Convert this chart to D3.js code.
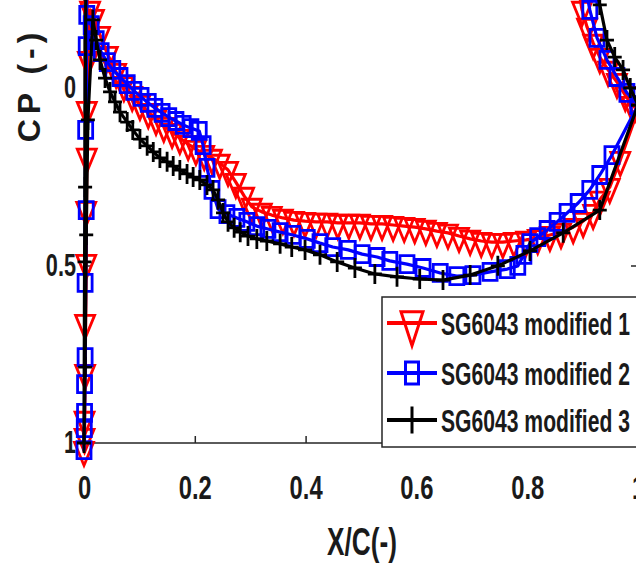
<!DOCTYPE html>
<html>
<head>
<meta charset="utf-8">
<script src="https://cdn.jsdelivr.net/npm/d3@7"></script>
<style>
  body { margin: 0; background: #fff; }
  svg { display: block; }
</style>
</head>
<body>
<div id="chart"></div>
<script>
'use strict';

// tick values and legend names
var xTicks = [0, 0.2, 0.4, 0.6, 0.8, 1];
var yTicks = [0, 0.5, 1];
var seriesNames = ['SG6043 modified 1', 'SG6043 modified 2', 'SG6043 modified 3'];

// [x/c, Cp]; loop goes TE -> lower side -> LE -> upper side -> TE
// (upper side suction peak is outside the visible range)
var mod1 = [
  [1.0, 0.062], [0.968, 0.203], [0.949, 0.279], [0.931, 0.315], [0.919, 0.352], [0.901, 0.375], [0.883, 0.392], [0.861, 0.406], [0.841, 0.414],
  [0.819, 0.423], [0.798, 0.428], [0.776, 0.431], [0.756, 0.434], [0.736, 0.434], [0.717, 0.431], [0.697, 0.425], [0.677, 0.417], [0.657, 0.408], [0.637, 0.403],
  [0.617, 0.397], [0.597, 0.392], [0.578, 0.389], [0.558, 0.386], [0.538, 0.383], [0.518, 0.383], [0.498, 0.380], [0.478, 0.380], [0.458, 0.380], [0.439, 0.377],
  [0.419, 0.377], [0.399, 0.375], [0.379, 0.372], [0.359, 0.366], [0.339, 0.358], [0.321, 0.349], [0.303, 0.335], [0.289, 0.304], [0.274, 0.265], [0.260, 0.231],
  [0.245, 0.211], [0.231, 0.197], [0.217, 0.186], [0.202, 0.172], [0.188, 0.158], [0.173, 0.141], [0.159, 0.124], [0.144, 0.107], [0.130, 0.087], [0.116, 0.068],
  [0.101, 0.045], [0.087, 0.020], [0.072, -0.008], [0.058, -0.045], [0.043, -0.093], [0.029, -0.149], [0.018, -0.197], [0.011, -0.220],
  [0.007, -0.079], [0.005, 0.194], [0.004, 0.493], [0.002, 0.803], [0.001, 0.983], [0, 1.02],
  [0.001, 0.935], [0.002, 0.662], [0.004, 0.344], [0.005, 0.062],
  [0.007, -0.67], [0.12, -1.375], [0.66, -1.375], [0.859, -0.586],
  [0.899, -0.220], [0.908, -0.172], [0.919, -0.127], [0.931, -0.087], [0.946, -0.051], [0.962, -0.017], [0.977, 0.020], [0.989, 0.048], [1.0, 0.062]
];

var mod2 = [
  [1.0, 0.048], [0.953, 0.189], [0.931, 0.245], [0.913, 0.287], [0.892, 0.324], [0.872, 0.352], [0.854, 0.377], [0.836, 0.400], [0.819, 0.420], [0.805, 0.437],
  [0.794, 0.470], [0.783, 0.501], [0.764, 0.510], [0.733, 0.518], [0.702, 0.527], [0.673, 0.530], [0.643, 0.521], [0.612, 0.507], [0.583, 0.496], [0.552, 0.487],
  [0.529, 0.476], [0.502, 0.468], [0.477, 0.456], [0.449, 0.448], [0.426, 0.437], [0.403, 0.425], [0.377, 0.414], [0.354, 0.406], [0.332, 0.397], [0.312, 0.389],
  [0.294, 0.377], [0.276, 0.366], [0.258, 0.355], [0.242, 0.341], [0.231, 0.287], [0.222, 0.225], [0.215, 0.161], [0.208, 0.121], [0.193, 0.113], [0.179, 0.104],
  [0.166, 0.093], [0.153, 0.082], [0.141, 0.070], [0.128, 0.056], [0.116, 0.042], [0.103, 0.025], [0.090, 0.008], [0.078, -0.011], [0.065, -0.031], [0.052, -0.051],
  [0.042, -0.073], [0.031, -0.101], [0.022, -0.135], [0.013, -0.177], [0.005, -0.206],
  [0.004, -0.118], [0.003, 0.118], [0.002, 0.549], [0.001, 0.834], [0.0005, 0.958], [0, 1.02],
  [0.001, 0.915], [0.002, 0.758], [0.004, 0.344],
  [0.005, -0.67], [0.12, -1.375], [0.66, -1.375], [0.870, -0.586],
  [0.913, -0.220], [0.926, -0.141], [0.944, -0.079], [0.962, -0.031], [0.980, 0.014], [1.0, 0.048]
];

var mod3 = [
  [1.0, 0.048], [0.931, 0.344], [0.865, 0.408], [0.805, 0.459], [0.747, 0.501], [0.697, 0.527], [0.648, 0.541], [0.606, 0.538], [0.565, 0.532], [0.525, 0.524],
  [0.489, 0.507], [0.457, 0.490], [0.426, 0.470], [0.399, 0.456], [0.375, 0.448], [0.354, 0.439], [0.330, 0.431], [0.312, 0.425], [0.296, 0.417], [0.282, 0.406],
  [0.271, 0.394], [0.260, 0.377], [0.251, 0.352], [0.242, 0.315], [0.233, 0.287], [0.222, 0.273], [0.209, 0.259], [0.197, 0.251], [0.186, 0.242], [0.173, 0.231],
  [0.161, 0.220], [0.150, 0.208], [0.137, 0.197], [0.125, 0.180], [0.114, 0.163], [0.101, 0.144], [0.088, 0.118], [0.078, 0.096], [0.065, 0.068], [0.056, 0.039],
  [0.047, 0.011], [0.038, -0.028], [0.029, -0.079], [0.022, -0.135], [0.016, -0.192],
  [0.007, 0.090], [0.004, 0.414], [0.002, 0.786], [0, 1.0],
  [0.001, 0.490], [0.002, 0.279],
  [0.004, -0.67], [0.12, -1.375], [0.66, -1.375], [0.886, -0.586],
  [0.931, -0.234], [0.944, -0.135], [0.958, -0.087], [0.973, -0.051], [0.986, 0.0], [1.0, 0.048]
];

var width = 636, height = 565;
var font = '"Liberation Sans", Arial, sans-serif';
var axisColor = '#262626';
var squash = 0.7;   // the picture is horizontally compressed

var x = d3.scaleLinear().domain([0, 1]).range([84, 638]);
var y = d3.scaleLinear().domain([0, 1]).range([88, 443]);   // reversed Cp axis

var svg = d3.select('#chart').append('svg')
    .attr('width', width)
    .attr('height', height);

// axes box
svg.append('rect')
    .attr('x', x(0)).attr('y', y(-0.25))
    .attr('width', x(1) - x(0)).attr('height', y(1) - y(-0.25))
    .attr('fill', 'none').attr('stroke', axisColor).attr('stroke-width', 1.5);

var xAxis = svg.append('g')
    .attr('transform', 'translate(0,' + y(1) + ')')
    .call(d3.axisBottom(x).tickValues(xTicks).tickSizeInner(-7).tickSizeOuter(0)
        .tickPadding(32).tickFormat(function(d) { return String(d); }));
var yAxis = svg.append('g')
    .attr('transform', 'translate(' + x(0) + ',0)')
    .call(d3.axisLeft(y).tickValues(yTicks).tickSizeInner(-7).tickSizeOuter(0)
        .tickPadding(8).tickFormat(function(d) { return String(d); }));
var yAxisRight = svg.append('g')
    .attr('transform', 'translate(' + x(1) + ',0)')
    .call(d3.axisRight(y).tickValues(yTicks).tickSizeInner(-7).tickSizeOuter(0)
        .tickFormat(function() { return ''; }));

[xAxis, yAxis, yAxisRight].forEach(function(g) {
    g.select('.domain').remove();
    g.selectAll('line').attr('stroke', axisColor).attr('stroke-width', 1.5);
});
xAxis.selectAll('text')
    .attr('font-family', font).attr('font-weight', 'bold').attr('font-size', 34)
    .attr('fill', '#1a1a1a')
    .attr('transform', 'scale(' + squash + ',1)');
yAxis.selectAll('text')
    .attr('font-family', font).attr('font-weight', 'bold').attr('font-size', 31)
    .attr('fill', '#1a1a1a')
    .attr('x', -8 / squash)
    .attr('transform', 'scale(' + squash + ',1)');

// axis titles
svg.append('text')
    .attr('transform', 'translate(362,555) scale(0.69,1)')
    .attr('text-anchor', 'middle')
    .attr('font-family', font).attr('font-weight', 'bold').attr('font-size', 38)
    .attr('fill', '#1a1a1a')
    .text('X/C(-)');
svg.append('text')
    .attr('transform', 'translate(40,85) rotate(-90)')
    .attr('text-anchor', 'middle')
    .attr('font-family', font).attr('font-weight', 'bold').attr('font-size', 32)
    .attr('letter-spacing', 5)
    .attr('fill', '#1a1a1a')
    .text('CP (-)');

// marker shapes, w x h
var shapes = {
    tri: function(w, h) {   // 'v' marker, centred on its centroid
        return 'M' + (-w / 2) + ',' + (-h / 3) + 'L' + (w / 2) + ',' + (-h / 3) + 'L0,' + (2 * h / 3) + 'Z';
    },
    square: function(w, h) {
        return 'M' + (-w / 2) + ',' + (-h / 2) + 'h' + w + 'v' + h + 'h' + (-w) + 'Z';
    },
    plus: function(w, h) {
        return 'M' + (-w / 2) + ',0H' + (w / 2) + 'M0,' + (-h / 2) + 'V' + (h / 2);
    }
};

var series = [
    { name: seriesNames[0], data: mod1, color: '#ff0000', shape: 'tri', w: 19, h: 23, lw: 22, lh: 34 },
    { name: seriesNames[1], data: mod2, color: '#0000ff', shape: 'square', w: 14, h: 17, lw: 13, lh: 22 },
    { name: seriesNames[2], data: mod3, color: '#000000', shape: 'plus', w: 14, h: 20, lw: 13, lh: 27 }
];

var line = d3.line()
    .x(function(d) { return x(d[0]); })
    .y(function(d) { return y(d[1]); });

series.forEach(function(s) {
    var g = svg.append('g');
    g.append('path')
        .datum(s.data)
        .attr('d', line)
        .attr('fill', 'none')
        .attr('stroke', s.color)
        .attr('stroke-width', 3.2)
        .attr('stroke-linejoin', 'round');
    g.selectAll('path.marker')
        .data(s.data)
        .enter().append('path')
        .attr('class', 'marker')
        .attr('transform', function(d) { return 'translate(' + x(d[0]) + ',' + y(d[1]) + ')'; })
        .attr('d', shapes[s.shape](s.w, s.h))
        .attr('fill', 'none')
        .attr('stroke', s.color)
        .attr('stroke-width', 2.8);
});

// legend
var legend = svg.append('g').attr('transform', 'translate(382,297)');
legend.append('rect')
    .attr('width', 270).attr('height', 150)
    .attr('fill', '#fff').attr('stroke', axisColor).attr('stroke-width', 1.5);

var rowY = [26, 76, 123];
series.forEach(function(s, i) {
    var row = legend.append('g').attr('transform', 'translate(0,' + rowY[i] + ')');
    row.append('line')
        .attr('x1', 5).attr('x2', 55)
        .attr('stroke', s.color).attr('stroke-width', 4);
    row.append('path')
        .attr('transform', 'translate(30,0)')
        .attr('d', shapes[s.shape](s.lw, s.lh))
        .attr('fill', 'none')
        .attr('stroke', s.color)
        .attr('stroke-width', 3);
    row.append('text')
        .attr('transform', 'translate(59,12) scale(0.66,1)')
        .attr('font-family', font).attr('font-weight', 'bold').attr('font-size', 32)
        .attr('fill', '#1a1a1a')
        .text(s.name);
});
</script>
</body>
</html>
